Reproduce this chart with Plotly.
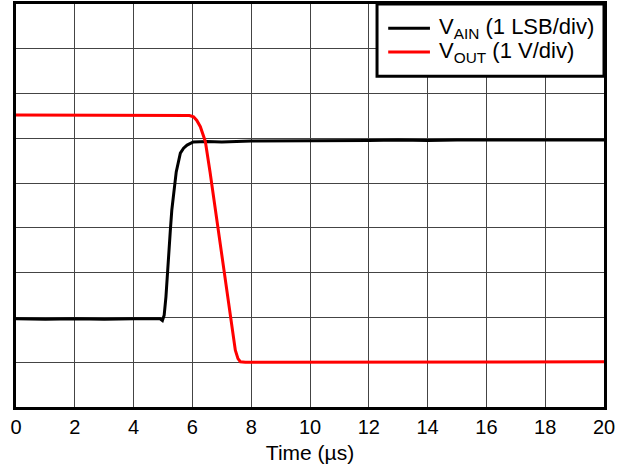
import plotly.graph_objects as go

# time axis in microseconds, amplitudes in divisions (0 = bottom of the grid)
t_ain = [0, 1, 2, 3, 4, 4.6, 4.9, 4.98, 5.04, 5.10, 5.16, 5.21, 5.25, 5.30, 5.36,
         5.45, 5.59, 5.70, 5.82, 6.03, 6.5, 7, 8, 9, 10, 11, 12, 13, 14, 15,
         16, 17, 18, 19, 20]
v_ain = [1.97, 1.96, 1.97, 1.96, 1.97, 1.97, 1.97, 1.93, 2.05, 2.46, 3.10, 3.73,
         3.95, 4.40, 4.78, 5.25, 5.67, 5.78, 5.85, 5.92, 5.93, 5.92, 5.94, 5.94,
         5.95, 5.94, 5.95, 5.96, 5.95, 5.96, 5.96, 5.95, 5.96, 5.96, 5.96]

t_out = [0, 2, 4, 5.5, 5.9, 6.04, 6.15, 6.27, 6.44, 6.6, 6.8, 7.0, 7.2, 7.3,
         7.46, 7.55, 7.63, 7.8, 8, 10, 12, 14, 16, 18, 20]
v_out = [6.52, 6.52, 6.52, 6.52, 6.51, 6.48, 6.40, 6.26, 5.93, 5.25, 4.35, 3.45,
         2.45, 1.99, 1.27, 1.08, 1.01, 1.00, 1.00, 1.01, 1.01, 1.01, 1.01, 1.01, 1.01]

x_ticks = [0, 2, 4, 6, 8, 10, 12, 14, 16, 18, 20]

series_names = ['V<sub>AIN</sub> (1 LSB/div)', 'V<sub>OUT</sub> (1 V/div)']
series_colors = ['black', '#ff0000']

font_family = "Liberation Sans, Arial, sans-serif"

fig = go.Figure()

fig.add_trace(go.Scatter(
    x=t_ain, y=v_ain, mode='lines',
    name=series_names[0],
    line=dict(color=series_colors[0], width=3),
))

fig.add_trace(go.Scatter(
    x=t_out, y=v_out, mode='lines',
    name=series_names[1],
    line=dict(color=series_colors[1], width=3),
))

fig.update_layout(
    width=628,
    height=469,
    margin=dict(l=16, r=24, t=4, b=62, autoexpand=False),
    plot_bgcolor='white',
    paper_bgcolor='white',
    font=dict(family=font_family, size=21, color='black'),
    showlegend=False,
)

# legend box drawn by hand (tighter row spacing than plotly's legend allows)
fig.add_shape(type='rect', xref='paper', yref='paper',
              x0=0.614, x1=1.0, y0=0.821, y1=1.0,
              fillcolor='white', line=dict(color='black', width=3), layer='above')
legend_y = [0.940, 0.881]
for name, color, ly in zip(series_names, series_colors, legend_y):
    fig.add_shape(type='line', xref='paper', yref='paper',
                  x0=0.633, x1=0.704, y0=ly, y1=ly,
                  line=dict(color=color, width=3), layer='above')
    fig.add_annotation(xref='paper', yref='paper', x=0.716, y=ly,
                       text=name, showarrow=False,
                       xanchor='left', yanchor='middle',
                       font=dict(size=22, color='black'))

fig.update_xaxes(
    range=[0, 20],
    tickvals=x_ticks,
    automargin=False,
    showgrid=True, gridcolor='#444444', gridwidth=1,
    showline=True, linecolor='black', linewidth=3, mirror=True,
    ticks='', zeroline=False,
    tickfont=dict(size=20),
    title=dict(text='Time (µs)', font=dict(size=21), standoff=9),
)

fig.update_yaxes(
    range=[0, 9],
    dtick=1,
    automargin=False,
    showticklabels=False,
    showgrid=True, gridcolor='#444444', gridwidth=1,
    showline=True, linecolor='black', linewidth=3, mirror=True,
    ticks='', zeroline=False,
)

# page body has a default 8px margin; remove it so the figure sits at the window corner
fig.write_html("out.html", config={'displayModeBar': False},
               post_script="document.body.style.margin='0';")
